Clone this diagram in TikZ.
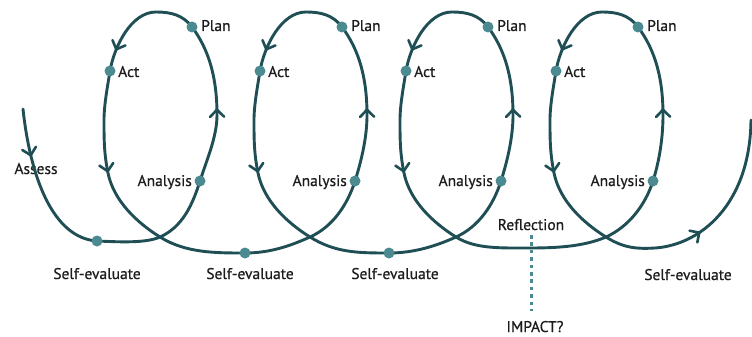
\documentclass[tikz,border=0pt]{standalone}
\usepackage{fontspec}
\setmainfont{PT Sans}
\newfontfamily\labelfont{PT Sans}[FakeBold=0.7]
\definecolor{spiral}{HTML}{1F4F55}
\definecolor{dotteal}{HTML}{4A8A90}
\definecolor{ink}{HTML}{1C1C1C}
\tikzset{
  curve/.style={draw=spiral, line width=2.9pt, line cap=round},
  stage/.style={circle, fill=dotteal, draw=none, inner sep=0pt, minimum size=11pt},
  lbl/.style={text=ink, font=\labelfont\fontsize{15.5}{18}\selectfont, inner sep=0pt},
  chev/.pic={\draw[spiral, line width=2.6pt, line cap=round, line join=round]
      (-7,-7) -- (0,0) -- (-7,7);},
  onpath/.style={pos=#1, sloped, allow upside down},
  impactline/.style={draw=dotteal, line width=3pt, dash pattern=on 3.6pt off 3.8pt},
}
\begin{document}
\begin{tikzpicture}[x=1pt,y=-1pt]
\useasboundingbox (0,0) rectangle (752,337);

% the four Plan-Act-Analysis loops
\foreach \k/\dx/\ax in {1/0/-5,2/150/0,3/296/0,4/446/2}{
  \begin{scope}[xshift=\dx]
    \coordinate (cross\k) at (160,237);
    \coordinate (ana\k)   at (205+\ax,181);
    \coordinate (right\k) at (217,115);
    \coordinate (plan\k)  at (192,27);
    \coordinate (top\k)   at (156,12);
    \coordinate (act\k)   at (110,71);
    \coordinate (left\k)  at (104,120);
    \coordinate (down\k)  at (108,173);
    \draw[curve] (cross\k)
      .. controls (182.75,226.75) and (197.5+\ax,204.75) .. (ana\k)
      .. controls (211.6+\ax,160.1) and (217,137) .. (right\k)
      .. controls (217,80) and (210,51) .. (plan\k) pic[onpath=0.05]{chev}
      .. controls (183,15) and (171,12) .. (top\k)
      .. controls (131,12) and (114,47) .. (act\k) pic[onpath=0.72]{chev}
      .. controls (107.6,86) and (104,105) .. (left\k)
      .. controls (104,140) and (104,153) .. (down\k) pic[onpath=0.97]{chev}
      .. controls (113.6,200.4) and (136.2,222.2) .. (cross\k);
    \node[stage] (dplan\k) at (plan\k) {};
    \node[stage] (dact\k)  at (act\k) {};
    \node[stage] (dana\k)  at (ana\k) {};
    \node[lbl, anchor=base west] (tplan\k) at (201,31) {Plan};
    \node[lbl, anchor=base west] (tact\k)  at (118,77) {Act};
    \node[lbl, anchor=base east] (tana\k)  at (197+\ax,186) {Analysis};
  \end{scope}
}

% the running line underneath the loops
\coordinate (start)  at (23,109);
\coordinate (se1)    at (97,241);
\coordinate (se2)    at (245,253);
\coordinate (se3)    at (389,253);
\coordinate (low)    at (530,248);
\coordinate (tail)   at (655,248);
\coordinate (finish) at (751,120);

\node[lbl, anchor=base] (tassess) at (36,174) {Assess};

\draw[curve] (start) .. controls (30,175) and (52,238) .. (se1) pic[onpath=0.24]{chev}
  .. controls (120,242) and (146,243.3) .. (cross1);
\draw[curve] (cross1) .. controls (185.5,253) and (215,253) .. (se2)
  .. controls (270,253) and (290,246) .. (cross2);
\draw[curve] (cross2) .. controls (335.5,253) and (359,253) .. (se3)
  .. controls (414,253) and (436,246) .. (cross3);
\draw[curve] (cross3) .. controls (475,249) and (500,248) .. (low)
  .. controls (560,248) and (585,246) .. (cross4);
\draw[curve] (cross4) .. controls (624,248.5) and (638,249) .. (tail)
  .. controls (700,245) and (750,205) .. (finish) pic[onpath=0.33]{chev};

\node[stage] (dse1) at (se1) {};
\node[stage] (dse2) at (se2) {};
\node[stage] (dse3) at (se3) {};

\node[lbl, anchor=base] (tse1) at (97,279) {Self-evaluate};
\node[lbl, anchor=base] (tse2) at (250,279) {Self-evaluate};
\node[lbl, anchor=base] (tse3) at (395,279) {Self-evaluate};
\node[lbl, anchor=base] (tse4) at (688,280) {Self-evaluate};

% reflection and its dotted drop to the impact question
\node[lbl, anchor=base] (trefl)   at (531,230) {Reflection};
\node[lbl, anchor=base] (timpact) at (535,332) {IMPACT?};
\coordinate (droptop) at (531,235);
\coordinate (dropend) at (531,311);
\draw[impactline] (droptop) -- (dropend);
\end{tikzpicture}
\end{document}
